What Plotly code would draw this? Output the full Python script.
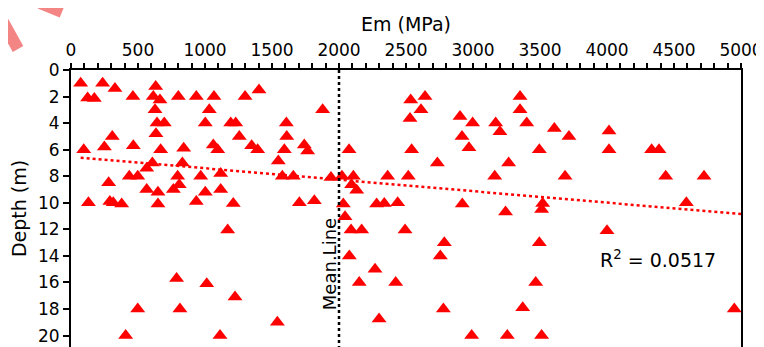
import plotly.graph_objects as go

em_mpa = [72, 236, 328, 124, 174, 462, 632, 614, 664, 801, 935, 1067, 1299, 1403,
          627, 1032, 642, 696, 1002, 1192, 1229, 1607, 634, 308, 1256, 1610,
          95, 249, 465, 669, 841, 1062, 1095, 1348, 1393, 1592, 1547, 607, 565, 831,
          435, 498, 796, 968, 1117, 1577, 1659, 281, 808, 565, 649, 764, 1002, 1117,
          130, 290, 315, 378, 649, 935, 1211, 1169, 788, 1013, 1224, 498, 813, 408, 1112, 1540,
          1704, 1816, 1878, 1741, 1766, 2075, 1940, 2022, 2107, 2094, 2132, 2363, 2517,
          2535, 2642, 2612, 2530, 2542, 2734, 2903, 2997, 2918, 2970, 3169, 3201, 3162, 3266,
          2032, 2281, 2338, 2438, 2920, 2045, 2090, 2169, 2493, 2786, 2756, 2077, 2269,
          2151, 2423, 2779, 2299, 2990, 3256, 3243,
          3351, 3351, 3401, 3607, 3716, 4015, 4015, 3495, 4333, 4388, 3687, 4438, 4724,
          3520, 3512, 4592, 4000, 3495, 3468, 3371, 3512, 4950]
depth_m = [1.0, 1.0, 1.4, 2.1, 2.15, 2.0, 1.25, 2.0, 2.25, 2.0, 2.0, 2.0, 2.0, 1.5,
           3.0, 3.0, 4.0, 4.0, 4.0, 4.0, 4.0, 4.0, 4.8, 5.0, 5.0, 5.0,
           6.0, 5.8, 5.7, 6.0, 5.9, 5.65, 6.0, 5.7, 6.0, 6.0, 6.85, 7.0, 7.4, 7.0,
           8.0, 8.0, 8.0, 8.0, 7.8, 8.0, 8.0, 8.5, 8.65, 9.0, 9.2, 9.0, 9.2, 9.0,
           10.0, 9.9, 10.0, 10.1, 10.1, 9.9, 10.05, 12.05, 15.7, 16.1, 17.1, 18.0, 18.0, 20.0, 20.0, 19.0,
           10.0, 9.85, 3.0, 5.65, 6.1, 6.0, 8.1, 8.0, 8.0, 8.65, 9.05, 8.0, 8.0,
           2.25, 2.0, 3.0, 3.65, 6.0, 7.0, 3.5, 4.0, 5.0, 5.85, 4.0, 4.65, 8.0, 7.0,
           10.1, 10.1, 10.05, 10.0, 10.1, 11.05, 12.05, 12.05, 12.05, 13.0, 14.0, 14.0, 15.0,
           16.0, 16.0, 18.0, 18.75, 20.0, 20.0, 10.7,
           2.0, 3.0, 4.0, 4.4, 5.0, 4.6, 6.0, 6.0, 6.0, 6.0, 8.0, 8.0, 8.0,
           10.05, 10.5, 10.0, 12.1, 13.0, 16.0, 17.9, 20.0, 18.0]

trend_x = [72, 5000]
trend_y = [6.6, 10.85]
mean_em = 2000
r2_text = "R<sup>2</sup> = 0.0517"
x_title = "Em (MPa)"
y_title = "Depth (m)"
mean_label = "Mean.Line"

Y_MAX = 20.86
FONT = "DejaVu Sans"

fig = go.Figure()
fig.add_trace(go.Scatter(x=em_mpa, y=depth_m, mode="markers",
                         marker=dict(symbol="triangle-up", size=13, color="#FF0000",
                                     line=dict(width=0)),
                         showlegend=False, cliponaxis=False))
fig.add_trace(go.Scatter(x=trend_x, y=trend_y, mode="lines",
                         line=dict(color="#FF0000", width=2.5, dash="dot"),
                         showlegend=False))
fig.add_trace(go.Scatter(x=[mean_em, mean_em], y=[0, Y_MAX], mode="lines",
                         line=dict(color="black", width=2.5, dash="dot"),
                         showlegend=False))

fig.add_annotation(x=3930, y=14.2, text=r2_text, showarrow=False,
                   xanchor="left", yanchor="middle",
                   font=dict(family=FONT, size=19, color="black"))
fig.add_annotation(x=1935, y=14.6, text=mean_label, showarrow=False, textangle=-90,
                   xanchor="center", yanchor="middle",
                   font=dict(family=FONT, size=18, color="black"))

# page coords -> paper coords (plot area spans page x 71..741, y 70..347)
def px(x, y):
    return (x - 71) / 670, (347 - y) / 277

for (x0, y0, x1, y1) in [(2, 20, 18, 49), (40, 3, 62, 12)]:
    a = px(x0, y0); b = px(x1, y1)
    fig.add_shape(type="line", xref="paper", yref="paper", x0=a[0], y0=a[1], x1=b[0], y1=b[1],
                  line=dict(color="rgba(242,120,120,0.9)", width=12), layer="above")

# the page body adds an 8px offset, so margins are reduced accordingly
fig.update_layout(
    width=764, height=347,
    margin=dict(l=63, r=31, t=62, b=8, autoexpand=False),
    paper_bgcolor="white", plot_bgcolor="white",
    font=dict(family=FONT, size=17, color="black"),
    xaxis=dict(side="top", range=[0, 5000], dtick=500, tick0=0, automargin=False,
               showgrid=False, zeroline=False, showline=True, linecolor="black", linewidth=2,
               ticks="outside", ticklen=5, tickwidth=1.5, tickcolor="black",
               minor=dict(dtick=100, ticks="outside", ticklen=5, tickwidth=1.5, tickcolor="black"),
               title=dict(text=x_title, font=dict(size=19), standoff=4),
               tickfont=dict(size=17)),
    yaxis=dict(range=[Y_MAX, 0], dtick=2, tick0=0, automargin=False,
               showgrid=False, zeroline=False, showline=True, linecolor="black", linewidth=2,
               mirror=True,
               ticks="outside", ticklen=6, tickwidth=1.5, tickcolor="black",
               title=dict(text=y_title, font=dict(size=19), standoff=6),
               tickfont=dict(size=17)),
)

fig.write_html("out.html")
